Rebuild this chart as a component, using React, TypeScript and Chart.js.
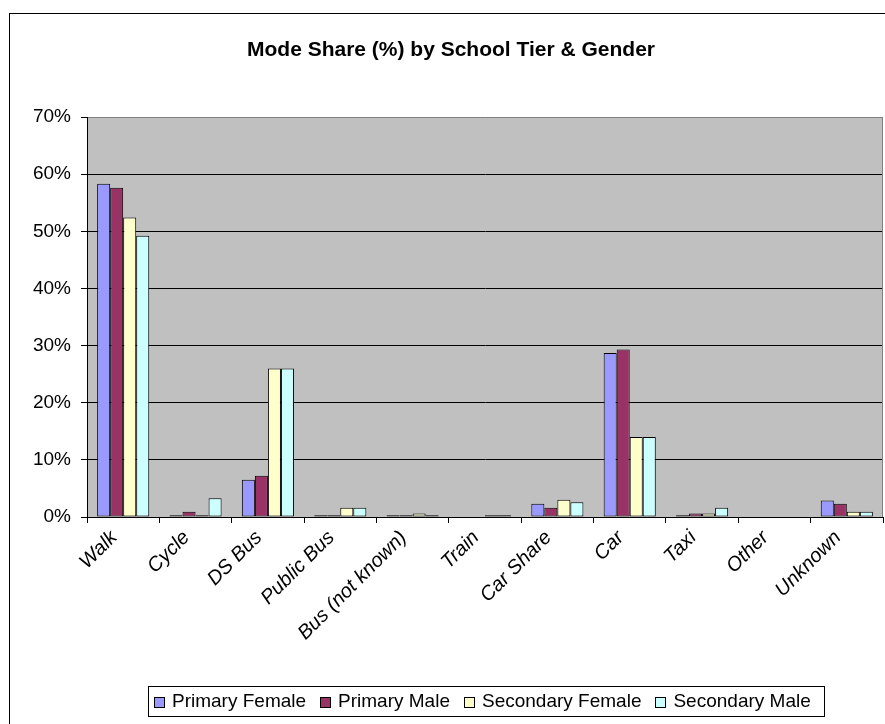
import React, { useEffect, useRef } from "react";
import { Chart, registerables } from "chart.js";

Chart.register(...registerables);

const categories = [
  "Walk",
  "Cycle",
  "DS Bus",
  "Public Bus",
  "Bus (not known)",
  "Train",
  "Car Share",
  "Car",
  "Taxi",
  "Other",
  "Unknown",
];

const seriesNames = ["Primary Female", "Primary Male", "Secondary Female", "Secondary Male"];
const seriesColors = ["#9999FF", "#993366", "#FFFFCC", "#CCFFFF"];

const primaryFemale = [58.3, 0.3, 6.5, 0.3, 0.3, 0, 2.3, 28.7, 0.3, 0, 2.9];
const primaryMale = [57.6, 0.9, 7.2, 0.3, 0.3, 0, 1.6, 29.3, 0.6, 0, 2.3];
const secondaryFemale = [52.4, 0.3, 26.0, 1.6, 0.6, 0.3, 3.0, 14.0, 0.6, 0, 0.9];
const secondaryMale = [49.2, 3.3, 26.0, 1.6, 0.3, 0.3, 2.6, 14.0, 1.6, 0, 0.9];

const yMin = 0;
const yMax = 70;
const yStep = 10;

const titleText = "Mode Share (%) by School Tier & Gender";
const FONT = "'Liberation Sans', Arial, sans-serif";

const decorPlugin = {
  id: "decor",
  beforeDraw(chart: any) {
    const { ctx, chartArea } = chart;
    ctx.save();
    ctx.fillStyle = "#FFFFFF";
    ctx.fillRect(0, 0, chart.width, chart.height);
    ctx.fillStyle = "#C0C0C0";
    ctx.fillRect(chartArea.left, chartArea.top, chartArea.right - chartArea.left, chartArea.bottom - chartArea.top);
    ctx.restore();
  },
  afterDraw(chart: any) {
    const { ctx, chartArea } = chart;
    ctx.save();
    // plot border right
    ctx.strokeStyle = "#808080";
    ctx.lineWidth = 1;
    ctx.beginPath();
    ctx.moveTo(Math.round(chartArea.right) - 0.5, chartArea.top);
    ctx.lineTo(Math.round(chartArea.right) - 0.5, chartArea.bottom);
    ctx.stroke();
    // outer frame
    ctx.strokeStyle = "#000000";
    ctx.lineWidth = 1;
    ctx.strokeRect(9.5, 13.5, 900, 800);
    // title
    ctx.fillStyle = "#000000";
    ctx.font = `bold 21px ${FONT}`;
    ctx.textAlign = "center";
    ctx.textBaseline = "middle";
    ctx.fillText(titleText, 451, 50);
    // legend
    const boxL = 148, boxR = 824, boxT = 686, boxB = 716;
    ctx.strokeStyle = "#000000";
    ctx.strokeRect(boxL + 0.5, boxT + 0.5, boxR - boxL, boxB - boxT);
    ctx.font = `19px ${FONT}`;
    ctx.textAlign = "left";
    const marker = 10, markerToText = 18, textToMarker = 14;
    const cy = (boxT + boxB) / 2 + 1;
    let x = 154;
    seriesNames.forEach((n, i) => {
      const mx = Math.round(x) + 0.5;
      const my = Math.round(cy - marker / 2) + 0.5;
      ctx.fillStyle = seriesColors[i];
      ctx.fillRect(mx, my, marker, marker);
      ctx.strokeStyle = "#000000";
      ctx.strokeRect(mx, my, marker, marker);
      ctx.fillStyle = "#000000";
      ctx.fillText(n, x + markerToText, cy);
      x += markerToText + ctx.measureText(n).width + textToMarker;
    });
    ctx.restore();
  },
};

export default function App() {
  const ref = useRef<HTMLCanvasElement | null>(null);

  useEffect(() => {
    if (!ref.current) return;
    const data = [primaryFemale, primaryMale, secondaryFemale, secondaryMale];
    const chart = new Chart(ref.current, {
      type: "bar",
      data: {
        labels: categories,
        datasets: seriesNames.map((name, i) => ({
          label: name,
          data: data[i],
          backgroundColor: seriesColors[i],
          borderColor: "#000000",
          borderWidth: 1,
          borderSkipped: false,
          categoryPercentage: 0.72,
          barPercentage: 1.0,
        })),
      },
      options: {
        animation: false,
        responsive: false,
        devicePixelRatio: 1,
        layout: { padding: { top: 117, left: 0, right: 2, bottom: 0 } },
        plugins: {
          legend: { display: false },
          title: { display: false },
          tooltip: { enabled: false },
        },
        scales: {
          x: {
            grid: {
              display: true,
              drawOnChartArea: false,
              drawTicks: true,
              tickLength: 6,
              color: "#000000",
              offset: true,
            },
            border: { display: true, color: "#000000", width: 1 },
            ticks: {
              autoSkip: false,
              minRotation: 45,
              maxRotation: 45,
              color: "#000000",
              padding: 3,
              labelOffset: -9,
              font: { family: FONT, size: 20, style: "italic" },
            },
            afterFit: (s: any) => {
              s.height = 207;
            },
          },
          y: {
            min: yMin,
            max: yMax,
            ticks: {
              stepSize: yStep,
              color: "#000000",
              padding: 10,
              font: { family: FONT, size: 19 },
              callback: (v: any) => `${v}%`,
            },
            grid: {
              color: (c: any) => (c.tick && c.tick.value === yMax ? "#808080" : "#000000"),
              tickColor: "#000000",
              tickLength: 6,
              lineWidth: 1,
            },
            border: { display: true, color: "#000000", width: 1 },
            afterFit: (s: any) => {
              s.width = 87;
            },
          },
        },
      },
      plugins: [decorPlugin],
    });
    return () => chart.destroy();
  }, []);

  return (
    <div style={{ position: "absolute", left: 0, top: 0, width: 885, height: 724 }}>
      <canvas ref={ref} width={885} height={724} style={{ display: "block", width: 885, height: 724 }} />
    </div>
  );
}
